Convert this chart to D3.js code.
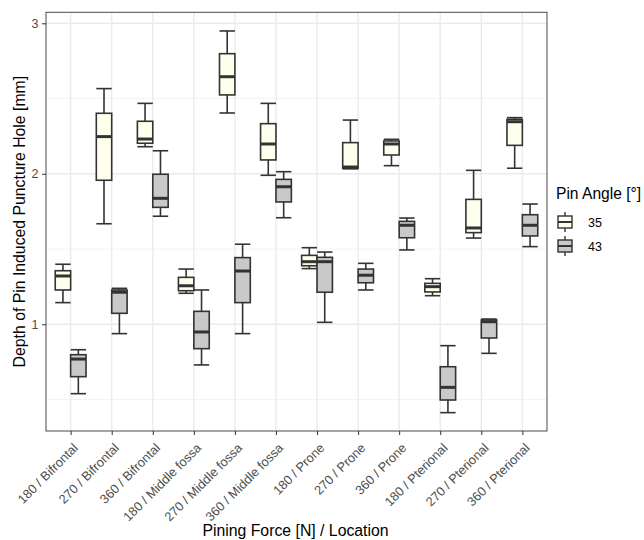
<!DOCTYPE html>
<html>
<head>
<meta charset="utf-8">
<script src="https://cdn.jsdelivr.net/npm/d3@7"></script>
<style>
  body { margin: 0; background: #fff; }
  text { font-family: "Liberation Sans", Arial, sans-serif; }
</style>
</head>
<body>
<svg id="chart" width="644" height="540"></svg>
<script>
var categories = [
  "180 / Bifrontal", "270 / Bifrontal", "360 / Bifrontal",
  "180 / Middle fossa", "270 / Middle fossa", "360 / Middle fossa",
  "180 / Prone", "270 / Prone", "360 / Prone",
  "180 / Pterional", "270 / Pterional", "360 / Pterional"
];
var groups = ["35", "43"];
var groupFill = ["#FFFFEE", "#C9C9C9"];

// [lower whisker, Q1, median, Q3, upper whisker] per category
var stats35 = [
  [1.144, 1.228, 1.321, 1.356, 1.399],
  [1.668, 1.957, 2.247, 2.402, 2.566],
  [2.180, 2.203, 2.231, 2.349, 2.468],
  [1.206, 1.223, 1.256, 1.312, 1.367],
  [2.404, 2.524, 2.645, 2.798, 2.949],
  [1.990, 2.092, 2.198, 2.333, 2.468],
  [1.370, 1.389, 1.416, 1.458, 1.509],
  [2.033, 2.037, 2.045, 2.207, 2.357],
  [2.054, 2.125, 2.198, 2.218, 2.229],
  [1.190, 1.215, 1.250, 1.272, 1.303],
  [1.573, 1.609, 1.640, 1.830, 2.023],
  [2.037, 2.189, 2.346, 2.362, 2.373]
];
var stats43 = [
  [0.539, 0.652, 0.769, 0.798, 0.831],
  [0.938, 1.073, 1.213, 1.228, 1.239],
  [1.718, 1.777, 1.837, 1.997, 2.153],
  [0.730, 0.838, 0.949, 1.086, 1.228],
  [0.938, 1.144, 1.354, 1.443, 1.532],
  [1.708, 1.813, 1.914, 1.963, 2.014],
  [1.013, 1.213, 1.416, 1.445, 1.480],
  [1.228, 1.276, 1.326, 1.367, 1.405],
  [1.494, 1.575, 1.658, 1.684, 1.706],
  [0.413, 0.497, 0.581, 0.718, 0.858],
  [0.807, 0.909, 1.017, 1.029, 1.035],
  [1.516, 1.587, 1.658, 1.728, 1.799]
];
var yTicks = [1, 2, 3];
var yMinor = [0.5, 1.5, 2.5];

var svg = d3.select("#chart");
var panel = { left: 46, right: 547, top: 12.3, bottom: 431 };

var x = d3.scalePoint()
  .domain(categories)
  .range([panel.left, panel.right])
  .padding(0.6);
var step = x.step();
var dodge = d3.scaleBand()
  .domain(groups)
  .range([-0.375 * step, 0.375 * step]);
var y = d3.scaleLinear()
  .domain([0.291, 3.073])
  .range([panel.bottom, panel.top]);

var ink = "#333333";
var boxLw = 1.6;

// grid
var grid = svg.append("g");
grid.selectAll(".minor").data(yMinor).enter().append("line")
  .attr("x1", panel.left).attr("x2", panel.right)
  .attr("y1", function (d) { return y(d); }).attr("y2", function (d) { return y(d); })
  .attr("stroke", "#F3F3F3").attr("stroke-width", 1);
grid.selectAll(".major").data(yTicks).enter().append("line")
  .attr("x1", panel.left).attr("x2", panel.right)
  .attr("y1", function (d) { return y(d); }).attr("y2", function (d) { return y(d); })
  .attr("stroke", "#EBEBEB").attr("stroke-width", 1.4);
grid.selectAll(".vmajor").data(categories).enter().append("line")
  .attr("x1", function (d) { return x(d); }).attr("x2", function (d) { return x(d); })
  .attr("y1", panel.top).attr("y2", panel.bottom)
  .attr("stroke", "#EBEBEB").attr("stroke-width", 1.4);

// boxes
var drawBox = function (g, cx, w, s, fill) {
  g.append("line")
    .attr("x1", cx).attr("x2", cx)
    .attr("y1", y(s[0])).attr("y2", y(s[4]))
    .attr("stroke", ink).attr("stroke-width", boxLw);
  [s[0], s[4]].forEach(function (v) {
    g.append("line")
      .attr("x1", cx - w / 2).attr("x2", cx + w / 2)
      .attr("y1", y(v)).attr("y2", y(v))
      .attr("stroke", ink).attr("stroke-width", boxLw);
  });
  g.append("rect")
    .attr("x", cx - w / 2).attr("width", w)
    .attr("y", y(s[3])).attr("height", y(s[1]) - y(s[3]))
    .attr("fill", fill).attr("stroke", ink).attr("stroke-width", boxLw);
  g.append("line")
    .attr("x1", cx - w / 2).attr("x2", cx + w / 2)
    .attr("y1", y(s[2])).attr("y2", y(s[2]))
    .attr("stroke", ink).attr("stroke-width", 3);
};

var boxes = svg.append("g");
[stats35, stats43].forEach(function (series, gi) {
  series.forEach(function (s, ci) {
    var cx = x(categories[ci]) + dodge(groups[gi]) + dodge.bandwidth() / 2;
    drawBox(boxes, cx, dodge.bandwidth(), s, groupFill[gi]);
  });
});

// panel border
svg.append("rect")
  .attr("x", panel.left).attr("y", panel.top)
  .attr("width", panel.right - panel.left).attr("height", panel.bottom - panel.top)
  .attr("fill", "none").attr("stroke", "#4a4a4a").attr("stroke-width", 1);

// axes
var yAxis = d3.axisLeft(y).tickValues(yTicks).tickSize(4).tickPadding(3.5).tickFormat(d3.format("d"));
var yg = svg.append("g").attr("transform", "translate(" + panel.left + ",0)").call(yAxis);
yg.select(".domain").remove();
yg.selectAll(".tick line").attr("stroke", ink);
yg.selectAll(".tick text").attr("fill", "#4D4D4D").attr("font-size", 12.5)
  .style("font-family", "'Liberation Sans', Arial, sans-serif");

var xAxis = d3.axisBottom(x).tickSize(4).tickFormat("");
var xg = svg.append("g").attr("transform", "translate(0," + panel.bottom + ")").call(xAxis);
xg.select(".domain").remove();
xg.selectAll(".tick line").attr("stroke", ink);

svg.append("g").selectAll("text").data(categories).enter().append("text")
  .attr("transform", function (d) {
    return "translate(" + (x(d) + 5) + "," + (panel.bottom + 14.5) + ") rotate(-45)";
  })
  .attr("text-anchor", "end")
  .attr("dy", "0.35em")
  .attr("fill", "#4D4D4D")
  .attr("font-size", 12.8)
  .text(function (d) { return d; });

svg.append("text")
  .attr("x", (panel.left + panel.right) / 2 - 1).attr("y", 536)
  .attr("text-anchor", "middle").attr("font-size", 15.8).attr("fill", "#000")
  .text("Pining Force [N] / Location");

svg.append("text")
  .attr("transform", "translate(25," + (panel.top + panel.bottom) / 2 + ") rotate(-90)")
  .attr("text-anchor", "middle").attr("font-size", 15.8).attr("fill", "#000")
  .text("Depth of Pin Induced Puncture Hole [mm]");

// legend
var legend = svg.append("g").attr("transform", "translate(556,0)");
legend.append("text")
  .attr("x", 0).attr("y", 199)
  .attr("font-size", 15.6).attr("fill", "#000")
  .text("Pin Angle [°]");
groups.forEach(function (gname, i) {
  var cy = 222 + i * 24;
  var kg = legend.append("g");
  kg.append("line").attr("x1", 9).attr("x2", 9)
    .attr("y1", cy - 10).attr("y2", cy + 10)
    .attr("stroke", ink).attr("stroke-width", 1.4);
  kg.append("rect").attr("x", 2).attr("width", 14)
    .attr("y", cy - 6).attr("height", 12)
    .attr("fill", groupFill[i]).attr("stroke", ink).attr("stroke-width", 1.4);
  kg.append("line").attr("x1", 2).attr("x2", 16)
    .attr("y1", cy).attr("y2", cy)
    .attr("stroke", ink).attr("stroke-width", 2);
  legend.append("text")
    .attr("x", 32).attr("y", cy + 4.5)
    .attr("font-size", 12.5).attr("fill", "#000")
    .text(gname);
});
</script>
</body>
</html>
